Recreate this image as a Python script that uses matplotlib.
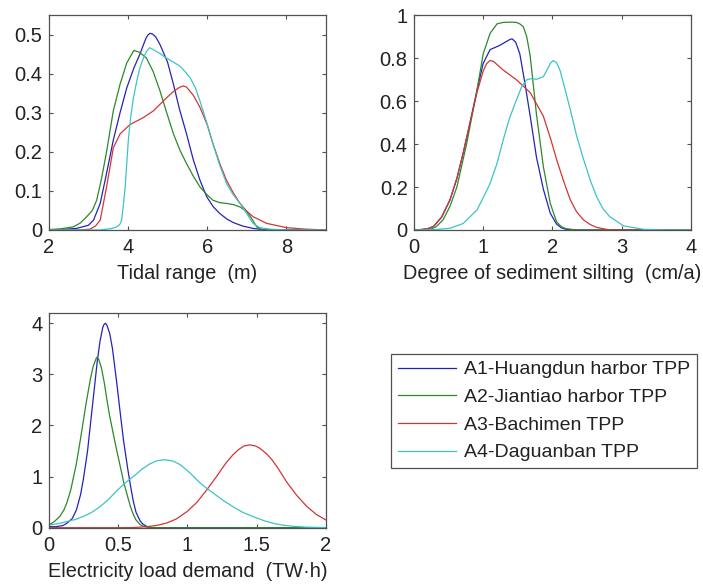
import numpy as np
import matplotlib
matplotlib.use("Agg")
import matplotlib.pyplot as plt
from matplotlib.ticker import FormatStrFormatter

plt.rcParams["font.family"] = ["Liberation Sans", "DejaVu Sans"]

NAMES = ["A1-Huangdun harbor TPP", "A2-Jiantiao harbor TPP",
         "A3-Bachimen TPP", "A4-Daguanban TPP"]
COLORS = ["#2424b4", "#2a8a2a", "#d43434", "#3cc4c4"]
INK = "#222222"
FRAME = "#505050"

# --- tidal range (m) ---
tide_x1 = [2.0, 2.3, 2.7, 3.0, 3.13, 3.3, 3.45, 3.63, 3.8, 3.97, 4.15, 4.3, 4.45, 4.5, 4.56,
           4.62, 4.7, 4.81, 5.0, 5.15, 5.3, 5.48, 5.65, 5.82, 5.99, 6.15, 6.32, 6.5, 6.66, 6.9,
           7.16, 7.5, 9.0]
tide_y1 = [0.0, 0.001, 0.004, 0.012, 0.025, 0.068, 0.14, 0.23, 0.30, 0.364, 0.415, 0.45, 0.49,
           0.499, 0.504, 0.502, 0.495, 0.475, 0.43, 0.373, 0.31, 0.246, 0.18, 0.127, 0.085,
           0.06, 0.042, 0.028, 0.019, 0.01, 0.004, 0.0, 0.0]
tide_x2 = [2.0, 2.3, 2.62, 2.8, 2.96, 3.1, 3.21, 3.33, 3.46, 3.63, 3.8, 3.97, 4.15, 4.3, 4.47,
           4.64, 4.81, 4.98, 5.15, 5.31, 5.48, 5.65, 5.82, 6.0, 6.15, 6.32, 6.49, 6.66, 6.83,
           7.0, 7.12, 7.25, 7.4, 9.0]
tide_y2 = [0.001, 0.003, 0.008, 0.018, 0.034, 0.05, 0.076, 0.13, 0.2, 0.305, 0.373, 0.428,
           0.46, 0.455, 0.44, 0.405, 0.356, 0.30, 0.246, 0.205, 0.17, 0.138, 0.11, 0.09, 0.076,
           0.07, 0.068, 0.065, 0.059, 0.047, 0.03, 0.008, 0.0, 0.0]
tide_x3 = [2.0, 2.8, 3.04, 3.18, 3.3, 3.46, 3.63, 3.8, 4.05, 4.39, 4.64, 4.98, 5.15, 5.31, 5.4,
           5.48, 5.65, 5.82, 6.0, 6.15, 6.32, 6.49, 6.66, 6.83, 7.0, 7.16, 7.5, 8.0, 8.5, 9.0]
tide_y3 = [0.0, 0.0, 0.002, 0.01, 0.025, 0.11, 0.21, 0.246, 0.27, 0.288, 0.305, 0.339, 0.355,
           0.366, 0.369, 0.366, 0.345, 0.314, 0.27, 0.22, 0.17, 0.127, 0.095, 0.068, 0.048,
           0.034, 0.017, 0.006, 0.002, 0.0]
tide_x4 = [2.0, 3.3, 3.6, 3.72, 3.8, 3.84, 3.88, 3.93, 4.01, 4.07, 4.14, 4.22, 4.3, 4.39, 4.47,
           4.55, 4.64, 4.81, 4.98, 5.15, 5.31, 5.45, 5.57, 5.7, 5.82, 5.99, 6.15, 6.32, 6.49,
           6.66, 6.83, 7.0, 7.16, 7.33, 7.6, 8.0, 9.0]
tide_y4 = [0.0, 0.0, 0.004, 0.008, 0.015, 0.025, 0.06, 0.11, 0.23, 0.29, 0.339, 0.38, 0.415,
           0.44, 0.458, 0.467, 0.462, 0.452, 0.44, 0.43, 0.42, 0.405, 0.39, 0.365, 0.33, 0.275,
           0.22, 0.165, 0.119, 0.09, 0.068, 0.042, 0.017, 0.006, 0.002, 0.0, 0.0]

# --- degree of sediment silting (cm/a) ---
silt_x1 = [0, 0.1, 0.2, 0.28, 0.4, 0.52, 0.62, 0.71, 0.81, 0.91, 1.0, 1.1, 1.24, 1.32, 1.39,
           1.42, 1.47, 1.53, 1.6, 1.68, 1.77, 1.87, 1.97, 2.06, 2.13, 2.2, 2.35, 4.0]
silt_y1 = [0.0, 0.002, 0.006, 0.016, 0.06, 0.14, 0.24, 0.357, 0.5, 0.65, 0.776, 0.84, 0.86,
           0.875, 0.888, 0.89, 0.875, 0.82, 0.69, 0.53, 0.34, 0.19, 0.078, 0.028, 0.01, 0.003,
           0.0, 0.0]
silt_x2 = [0, 0.15, 0.23, 0.32, 0.42, 0.52, 0.62, 0.76, 0.91, 1.0, 1.1, 1.2, 1.29, 1.4, 1.48,
           1.53, 1.58, 1.63, 1.68, 1.77, 1.87, 1.97, 2.06, 2.13, 2.2, 2.35, 4.0]
silt_y2 = [0.0, 0.0, 0.002, 0.015, 0.047, 0.11, 0.2, 0.4, 0.65, 0.82, 0.916, 0.96, 0.967,
           0.968, 0.967, 0.96, 0.947, 0.9, 0.81, 0.54, 0.295, 0.124, 0.039, 0.015, 0.006, 0.0, 0.0]
silt_x3 = [0, 0.1, 0.2, 0.28, 0.4, 0.52, 0.62, 0.71, 0.81, 0.91, 1.0, 1.05, 1.1, 1.15, 1.29,
           1.48, 1.68, 1.87, 1.97, 2.06, 2.16, 2.26, 2.35, 2.45, 2.55, 2.64, 2.83, 4.0]
silt_y3 = [0.0, 0.002, 0.006, 0.016, 0.06, 0.14, 0.24, 0.357, 0.5, 0.64, 0.74, 0.775, 0.79,
           0.785, 0.745, 0.7, 0.64, 0.53, 0.43, 0.33, 0.23, 0.14, 0.085, 0.047, 0.025, 0.012,
           0.0, 0.0]
silt_x4 = [0, 0.3, 0.52, 0.71, 0.91, 1.0, 1.1, 1.2, 1.29, 1.38, 1.48, 1.56, 1.63, 1.7, 1.77,
           1.87, 1.93, 1.97, 2.01, 2.06, 2.11, 2.18, 2.26, 2.35, 2.45, 2.55, 2.64, 2.73, 2.83,
           3.03, 3.32, 3.65, 4.0]
silt_y4 = [0.0, 0.002, 0.008, 0.03, 0.093, 0.15, 0.217, 0.31, 0.42, 0.52, 0.605, 0.67, 0.7,
           0.705, 0.702, 0.714, 0.75, 0.776, 0.789, 0.78, 0.745, 0.66, 0.56, 0.44, 0.33, 0.23,
           0.155, 0.1, 0.062, 0.019, 0.003, 0.0, 0.0]

# --- electricity load demand (TW.h) ---
load_x1 = [0, 0.05, 0.1, 0.13, 0.17, 0.2, 0.23, 0.25, 0.28, 0.3, 0.33, 0.35, 0.37, 0.39, 0.4,
           0.41, 0.42, 0.44, 0.46, 0.49, 0.52, 0.54, 0.57, 0.59, 0.61, 0.63, 0.66, 0.68, 0.71,
           0.74, 2.0]
load_y1 = [0.02, 0.02, 0.04, 0.085, 0.18, 0.35, 0.65, 0.95, 1.5, 2.0, 2.75, 3.25, 3.65, 3.92,
           3.98, 4.0, 3.96, 3.8, 3.5, 2.85, 2.15, 1.7, 1.15, 0.82, 0.52, 0.3, 0.13, 0.07, 0.02,
           0.0, 0.0]
load_x2 = [0, 0.04, 0.08, 0.11, 0.13, 0.16, 0.2, 0.23, 0.27, 0.3, 0.32, 0.345, 0.36, 0.38, 0.4,
           0.42, 0.44, 0.47, 0.49, 0.52, 0.54, 0.57, 0.59, 0.61, 0.63, 0.66, 0.68, 0.73, 2.0]
load_y2 = [0.05, 0.12, 0.22, 0.35, 0.48, 0.75, 1.26, 1.75, 2.44, 2.9, 3.15, 3.33, 3.3, 3.13,
           2.85, 2.5, 2.18, 1.78, 1.52, 1.15, 0.9, 0.6, 0.41, 0.26, 0.15, 0.06, 0.03, 0.0, 0.0]
load_x3 = [0, 0.5, 0.61, 0.71, 0.78, 0.85, 0.92, 1.0, 1.07, 1.14, 1.21, 1.28, 1.33, 1.37, 1.41,
           1.45, 1.49, 1.52, 1.57, 1.61, 1.65, 1.72, 1.79, 1.86, 1.93, 2.0]
load_y3 = [0, 0.0, 0.003, 0.02, 0.045, 0.09, 0.17, 0.32, 0.5, 0.74, 1.0, 1.27, 1.43, 1.53, 1.6,
           1.62, 1.6, 1.56, 1.45, 1.33, 1.18, 0.88, 0.63, 0.42, 0.26, 0.15]
load_x4 = [0, 0.07, 0.13, 0.19, 0.25, 0.31, 0.37, 0.43, 0.49, 0.55, 0.61, 0.67, 0.73, 0.78,
           0.84, 0.9, 0.95, 1.02, 1.09, 1.14, 1.19, 1.26, 1.33, 1.4, 1.48, 1.55, 1.62, 1.69,
           1.76, 1.86, 2.0]
load_y4 = [0.05, 0.08, 0.12, 0.16, 0.22, 0.3, 0.41, 0.55, 0.72, 0.87, 1.0, 1.14, 1.25, 1.31,
           1.33, 1.3, 1.23, 1.07, 0.88, 0.77, 0.67, 0.53, 0.41, 0.3, 0.21, 0.14, 0.085, 0.05,
           0.028, 0.01, 0.002]


def style_axis(ax, xlim, ylim, xticks, yticks, xlabel):
    ax.set_xlim(*xlim)
    ax.set_ylim(*ylim)
    ax.set_xticks(xticks)
    ax.set_yticks(yticks)
    ax.xaxis.set_major_formatter(FormatStrFormatter("%g"))
    ax.yaxis.set_major_formatter(FormatStrFormatter("%g"))
    ax.tick_params(direction="in", top=True, right=True, length=3, width=0.8,
                   colors=FRAME, labelcolor=INK, labelsize=14.5)
    ax.tick_params(axis="x", pad=6)
    ax.tick_params(axis="y", pad=4.5)
    for sp in ax.spines.values():
        sp.set_edgecolor(FRAME)
        sp.set_linewidth(0.9)
    ax.set_xlabel(xlabel, fontsize=14.3, color=INK, labelpad=5)


fig = plt.figure(figsize=(7.03, 5.84), dpi=100, facecolor="white")
ax1 = fig.add_axes([0.0693, 0.6062, 0.3944, 0.3676])
ax2 = fig.add_axes([0.5889, 0.6062, 0.3936, 0.3676])
ax3 = fig.add_axes([0.0693, 0.0964, 0.3944, 0.3676])

tide = [(tide_x1, tide_y1), (tide_x2, tide_y2), (tide_x3, tide_y3), (tide_x4, tide_y4)]
silt = [(silt_x1, silt_y1), (silt_x2, silt_y2), (silt_x3, silt_y3), (silt_x4, silt_y4)]
load = [(load_x1, load_y1), (load_x2, load_y2), (load_x3, load_y3), (load_x4, load_y4)]

handles = []
for (x, y), col in zip(tide, COLORS):
    ax1.plot(x, y, color=col, lw=0.9)
for (x, y), col in zip(silt, COLORS):
    ax2.plot(x, y, color=col, lw=0.9)
for (x, y), col, name in zip(load, COLORS, NAMES):
    h, = ax3.plot(x, y, color=col, lw=0.9, label=name)
    handles.append(h)

style_axis(ax1, (2, 9), (0, 0.55), [2, 4, 6, 8], np.arange(0, 0.51, 0.1), "Tidal range  (m)")
style_axis(ax2, (0, 4), (0, 1), [0, 1, 2, 3, 4], np.arange(0, 1.01, 0.2),
           "Degree of sediment silting  (cm/a)")
style_axis(ax3, (0, 2), (0, 4.2), [0, 0.5, 1, 1.5, 2], [0, 1, 2, 3, 4],
           "Electricity load demand  (TW\u00b7h)")

leg = fig.legend(handles, NAMES, loc="upper left", bbox_to_anchor=(0.5558, 0.394),
                 bbox_transform=fig.transFigure, borderaxespad=0, fontsize=14,
                 handlelength=3.0, handletextpad=0.4, labelspacing=0.52, borderpad=0.35,
                 fancybox=False, framealpha=1, edgecolor=FRAME)
leg.get_frame().set_linewidth(0.9)
for t in leg.get_texts():
    t.set_color(INK)

fig.savefig("out.png", dpi=100, facecolor="white")
